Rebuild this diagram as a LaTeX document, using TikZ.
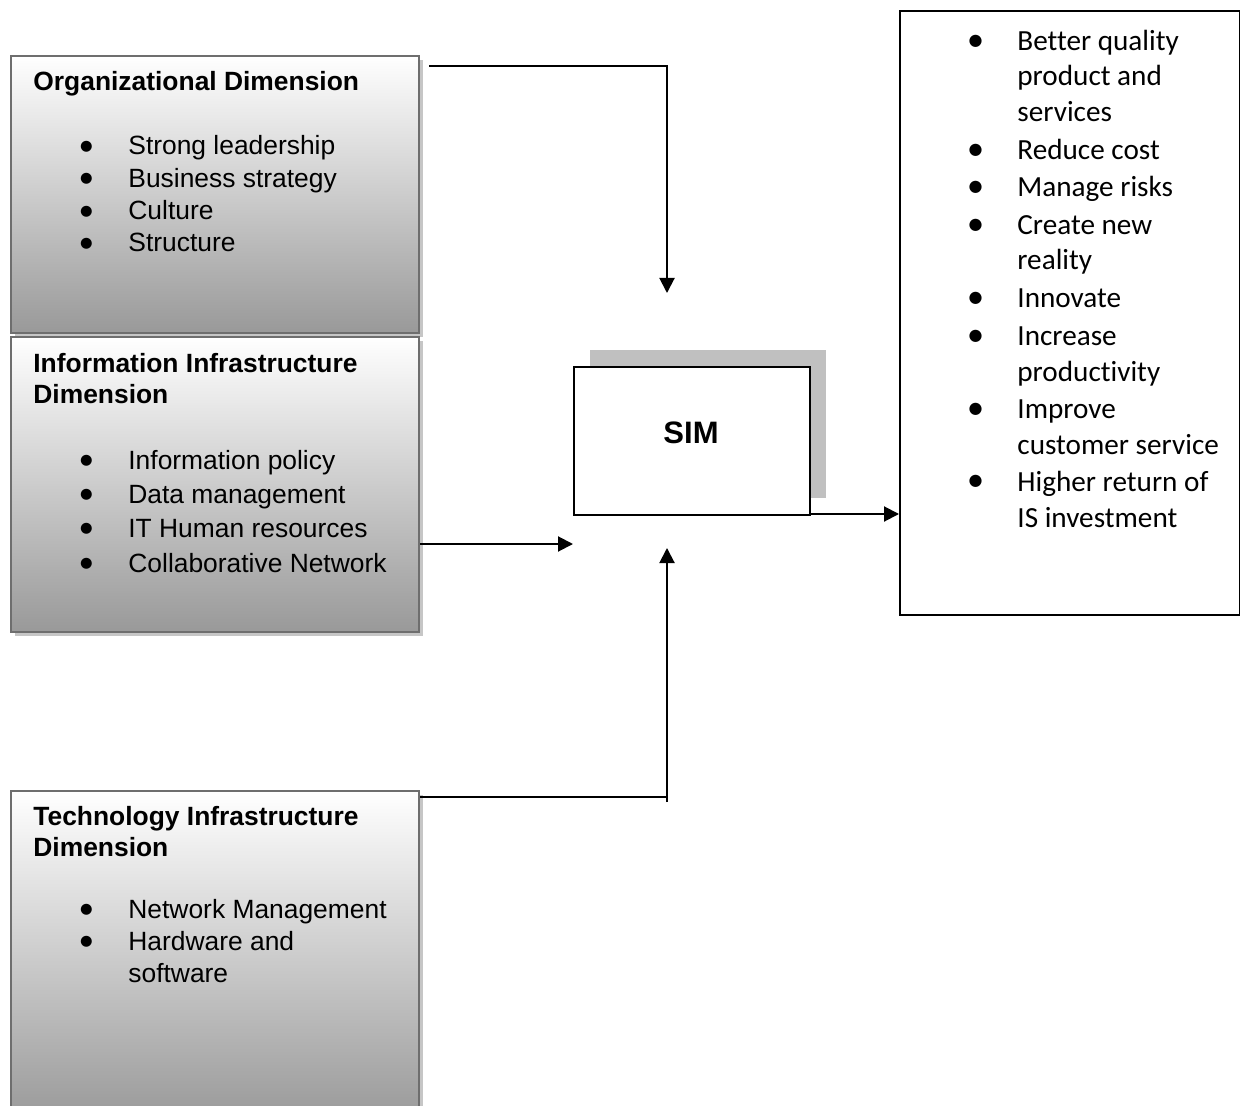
\documentclass[tikz,border=0pt]{standalone}
\usepackage{fontspec}
\setmainfont{Liberation Sans}
\newfontfamily\calibfont[Ligatures=NoCommon]{Carlito}
\newfontfamily\dotfont{DejaVu Sans}
\usetikzlibrary{arrows.meta,shadows}
\definecolor{boxedge}{HTML}{6E6E6E}
\definecolor{boxshade}{HTML}{C6C6C6}
\definecolor{boxbottom}{HTML}{999999}
\definecolor{simshade}{HTML}{C0C0C0}
\begin{document}
\begin{tikzpicture}[x=0.5pt,y=-0.5pt,
  dimbox/.style={rectangle, draw=boxedge, line width=1pt, top color=white, bottom color=boxbottom,
    anchor=north west, inner sep=0pt, minimum width=204pt,
    general shadow={shadow xshift=2pt, shadow yshift=-2pt, fill=boxshade}},
  simbox/.style={rectangle, draw=black, line width=1pt, fill=white, anchor=north west, inner sep=0pt,
    minimum width=118pt, minimum height=74pt,
    general shadow={shadow xshift=8pt, shadow yshift=8.5pt, fill=simshade}},
  outbox/.style={rectangle, draw=black, line width=1pt, anchor=north west, inner sep=0pt,
    minimum width=170pt, minimum height=302pt},
  txt/.style={anchor=base west, inner sep=0pt, font=\fontsize{13.2pt}{16pt}\selectfont},
  ttl/.style={anchor=base west, inner sep=0pt, font=\bfseries\fontsize{13.2pt}{16pt}\selectfont},
  bul/.style={anchor=center, inner sep=0pt, font=\dotfont\fontsize{7.2pt}{8pt}\selectfont},
  rtxt/.style={anchor=base west, inner sep=0pt, font=\calibfont\fontsize{14.6pt}{18pt}\selectfont},
  rbul/.style={anchor=center, inner sep=0pt, font=\dotfont\fontsize{8pt}{9pt}\selectfont},
  conn/.style={draw=black, line width=1pt, -{Triangle[length=7.5pt,width=7.5pt]}},
  plainline/.style={draw=black, line width=1pt}]
\useasboundingbox (0,0) rectangle (1240,1106);
\clip (0,0) rectangle (1240,1106);

% left boxes
\node[dimbox, minimum height=138.5pt] (org) at (10,55) {};
\node[dimbox, minimum height=147.5pt] (info) at (10,336) {};
\node[dimbox, minimum height=165pt] (tech) at (10,790) {};

% SIM and outcome boxes
\node[simbox] (sim) at (573,366) {};
\node[anchor=center, inner sep=0pt, font=\bfseries\fontsize{15.5pt}{18pt}\selectfont] (simlabel) at (691,432.5) {SIM};
\node[outbox] (out) at (899,10) {};

% Organizational text
\node[ttl] (orgt) at (33,91) {Organizational Dimension};
\foreach \t/\y [count=\i] in {Strong leadership/155, Business strategy/187.3, Culture/219.6, Structure/252}{
  \node[bul] (ob\i) at (86.5,\y-8.3) {●};
  \node[txt] (ot\i) at (128,\y) {\t};
}

% Information text
\node[ttl] (inft1) at (33,373) {Information Infrastructure};
\node[ttl] (inft2) at (33,404) {Dimension};
\foreach \t/\y [count=\i] in {Information policy/469, Data management/503, IT Human resources/537.5, Collaborative Network/572}{
  \node[bul] (ib\i) at (86.5,\y-8.3) {●};
  \node[txt] (it\i) at (128,\y) {\t};
}

% Technology text
\node[ttl] (techt1) at (33,825) {Technology Infrastructure};
\node[ttl] (techt2) at (33,856) {Dimension};
\node[bul] (tb1) at (86.5,909.7) {●};
\node[txt] (tt1) at (128,918) {Network Management};
\node[bul] (tb2) at (86.5,942.2) {●};
\node[txt] (tt2) at (128,950.5) {Hardware and};
\node[txt] (tt3) at (128,982) {software};

% Outcome text
\foreach \t/\y/\b [count=\i] in {Better quality/50.5/1, product and/85.3/0, services/121.3/0, Reduce cost/159.5/1,
  Manage risks/196.7/1, Create new/234.8/1, reality/269.8/0, Innovate/307.8/1, Increase/345.6/1,
  productivity/381.8/0, Improve/418.5/1, customer service/454.3/0, Higher return of/491/1, IS investment/527.5/0}{
  \ifnum\b=1 \node[rbul] (rb\i) at (975.5,\y-9.3) {●};\fi
  \node[rtxt] (rt\i) at (1017,\y) {\t};
}

% connectors
\coordinate (a1e) at (667,293);
\draw[conn] ([xshift=4.5pt,yshift=-5.5pt]org.north east) -| (a1e);
\coordinate (a2e) at (573,544);
\draw[conn] (info.east |- a2e) -- (a2e);
\coordinate (a3c) at (667,797);
\coordinate (a3b) at (667,802);
\coordinate (a3e) at (667,548);
\draw[plainline] (tech.east |- a3c) -- (a3c);
\draw[conn] (a3b) -- (a3e);
\draw[conn] ([yshift=1pt]sim.south east) -- ([yshift=1pt]sim.south east -| out.west);
\end{tikzpicture}
\end{document}
